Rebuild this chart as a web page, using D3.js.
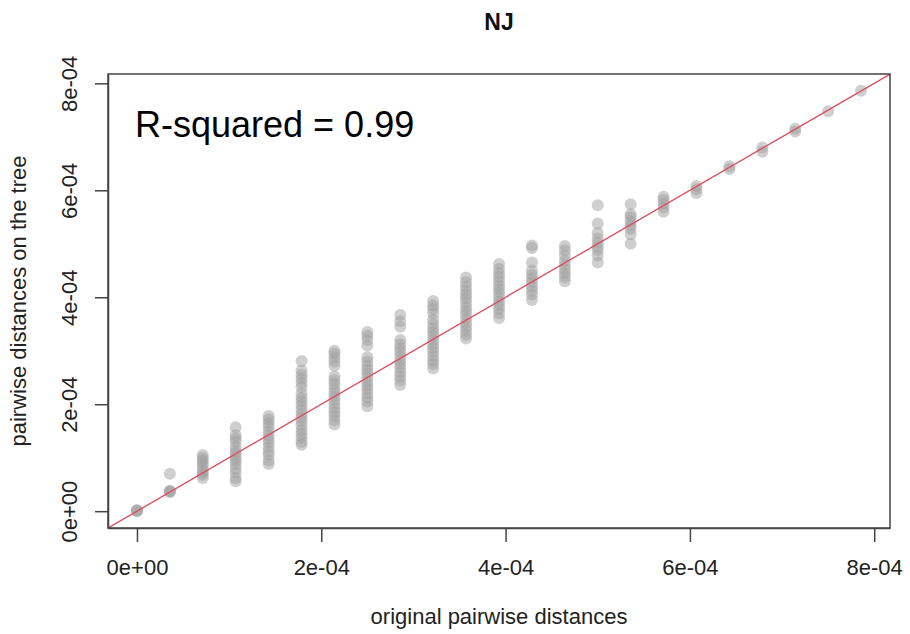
<!DOCTYPE html>
<html><head><meta charset="utf-8">
<script src="https://cdn.jsdelivr.net/npm/d3@7"></script>
<style>
html,body{margin:0;padding:0;background:#fff;}
svg{display:block;font-family:"Liberation Sans",Arial,Helvetica,sans-serif;}
</style>
</head><body>
<svg id="chart" width="910" height="634"></svg>
<script>
// ---------------- data (distances in units of 1e-4) ----------------
const UNIT = 1e-4;
const title = "NJ";
const xLabel = "original pairwise distances";
const yLabel = "pairwise distances on the tree";
const annotation = "R-squared = 0.99";
const tickValues = [0, 2, 4, 6, 8];
const tickLabels = ["0e+00", "2e-04", "4e-04", "6e-04", "8e-04"];

// original pairwise distances (one column of points per value)
const colX = [0, 0.357, 0.714, 1.071, 1.429, 1.786, 2.143, 2.5, 2.857, 3.214, 3.571,
              3.929, 4.286, 4.643, 5.0, 5.357, 5.714, 6.071, 6.429, 6.786, 7.143, 7.5, 7.857];
// pairwise distances on the tree for each column
const colY = [
  [0.0, 0.01, 0.02],
  [0.36, 0.37, 0.38, 0.70],
  [0.62, 0.68, 0.72, 0.78, 0.85, 0.9, 0.95, 1.0, 1.05],
  [0.56, 0.62, 0.72, 0.8, 0.88, 0.95, 1.0, 1.07, 1.12, 1.2, 1.3, 1.36, 1.42, 1.57],
  [0.88, 0.95, 1.05, 1.12, 1.2, 1.28, 1.35, 1.42, 1.5, 1.58, 1.65, 1.72, 1.78],
  [1.24, 1.3, 1.38, 1.45, 1.52, 1.6, 1.68, 1.75, 1.82, 1.9, 1.98, 2.05, 2.12, 2.2, 2.32, 2.4, 2.48, 2.55, 2.63, 2.81],
  [1.62, 1.7, 1.78, 1.85, 1.92, 2.0, 2.08, 2.15, 2.22, 2.3, 2.38, 2.45, 2.52, 2.72, 2.8, 2.88, 2.95, 3.0],
  [1.96, 2.05, 2.12, 2.2, 2.28, 2.35, 2.42, 2.5, 2.58, 2.65, 2.72, 2.8, 2.88, 3.1, 3.2, 3.28, 3.35],
  [2.36, 2.45, 2.52, 2.6, 2.68, 2.75, 2.82, 2.9, 2.98, 3.05, 3.12, 3.2, 3.45, 3.55, 3.67],
  [2.67, 2.75, 2.82, 2.9, 2.98, 3.05, 3.12, 3.2, 3.28, 3.35, 3.42, 3.5, 3.58, 3.7, 3.78, 3.85, 3.93],
  [3.23, 3.3, 3.38, 3.45, 3.52, 3.6, 3.68, 3.75, 3.82, 3.9, 3.98, 4.05, 4.12, 4.2, 4.28, 4.37],
  [3.61, 3.7, 3.78, 3.85, 3.92, 4.0, 4.08, 4.15, 4.22, 4.3, 4.38, 4.45, 4.53, 4.62],
  [3.95, 4.05, 4.12, 4.2, 4.28, 4.35, 4.42, 4.5, 4.65, 4.92, 4.97],
  [4.3, 4.38, 4.45, 4.52, 4.6, 4.68, 4.78, 4.88, 4.96],
  [4.65, 4.78, 4.88, 4.95, 5.02, 5.1, 5.2, 5.38, 5.72],
  [5.0, 5.18, 5.28, 5.35, 5.42, 5.5, 5.55, 5.74],
  [5.6, 5.68, 5.75, 5.82, 5.88],
  [5.95, 6.02, 6.08],
  [6.4, 6.45],
  [6.72, 6.8],
  [7.1, 7.15],
  [7.48],
  [7.86]
];

// ---------------- drawing ----------------
const points = [];
colX.forEach((xv, i) => colY[i].forEach(yv => points.push({x: xv, y: yv})));

const svg = d3.select("#chart");
const box = {left: 108, right: 890, top: 74, bottom: 528};

// R-style 4% axis padding
function padded(ext) { const r = ext[1] - ext[0]; return [ext[0] - 0.04 * r, ext[1] + 0.04 * r]; }
const x = d3.scaleLinear().domain(padded(d3.extent(points, d => d.x))).range([box.left, box.right]);
const y = d3.scaleLinear().domain(padded(d3.extent(points, d => d.y))).range([box.bottom, box.top]);

svg.append("defs").append("clipPath").attr("id", "clip")
  .append("rect").attr("x", box.left).attr("y", box.top)
  .attr("width", box.right - box.left).attr("height", box.bottom - box.top);

// points
svg.append("g").selectAll("circle").data(points).join("circle")
  .attr("cx", d => x(d.x)).attr("cy", d => y(d.y)).attr("r", 6)
  .attr("fill", "#a0a0a0").attr("fill-opacity", 0.5);

// y = x reference line
const dd = x.domain();
svg.append("line").attr("clip-path", "url(#clip)")
  .attr("x1", x(dd[0])).attr("y1", y(dd[0]))
  .attr("x2", x(dd[1])).attr("y2", y(dd[1]))
  .attr("stroke", "#e2475a").attr("stroke-width", 1.3);

// box
svg.append("rect").attr("x", box.left).attr("y", box.top)
  .attr("width", box.right - box.left).attr("height", box.bottom - box.top)
  .attr("fill", "none").attr("stroke", "#444").attr("stroke-width", 1.5);

// x axis
const gx = svg.append("g").attr("transform", `translate(0,${box.bottom})`)
  .call(d3.axisBottom(x).tickValues(tickValues.map(v => v))
    .tickFormat((d, i) => tickLabels[i]).tickSize(14).tickSizeOuter(0).tickPadding(8));
gx.select(".domain").attr("stroke", "#444").attr("stroke-width", 1.5);
gx.selectAll(".tick line").attr("stroke", "#444").attr("stroke-width", 1.5);
gx.selectAll(".tick text").attr("font-size", 22).attr("fill", "#222")
  .attr("dy", null).attr("y", 47);

// y axis
const gy = svg.append("g").attr("transform", `translate(${box.left},0)`)
  .call(d3.axisLeft(y).tickValues(tickValues)
    .tickFormat((d, i) => tickLabels[i]).tickSize(13).tickSizeOuter(0));
gy.select(".domain").attr("stroke", "#444").attr("stroke-width", 1.5);
gy.selectAll(".tick line").attr("stroke", "#444").attr("stroke-width", 1.5);
gy.selectAll(".tick text").attr("font-size", 22).attr("fill", "#222")
  .attr("transform", "rotate(-90)").attr("text-anchor", "middle")
  .attr("x", 0).attr("dy", null).attr("y", -31);

// title
svg.append("text").attr("x", (box.left + box.right) / 2).attr("y", 30)
  .attr("text-anchor", "middle").attr("font-size", 23).attr("font-weight", "bold")
  .attr("fill", "#111").text(title);

// axis labels
svg.append("text").attr("x", (box.left + box.right) / 2).attr("y", 624)
  .attr("text-anchor", "middle").attr("font-size", 22).attr("fill", "#222").text(xLabel);
svg.append("text").attr("transform", `translate(26,${(box.top + box.bottom) / 2}) rotate(-90)`)
  .attr("text-anchor", "middle").attr("font-size", 22).attr("fill", "#222").text(yLabel);

// annotation
svg.append("text").attr("x", 135).attr("y", 137)
  .attr("font-size", 36).attr("fill", "#000").text(annotation);
</script>
</body></html>
